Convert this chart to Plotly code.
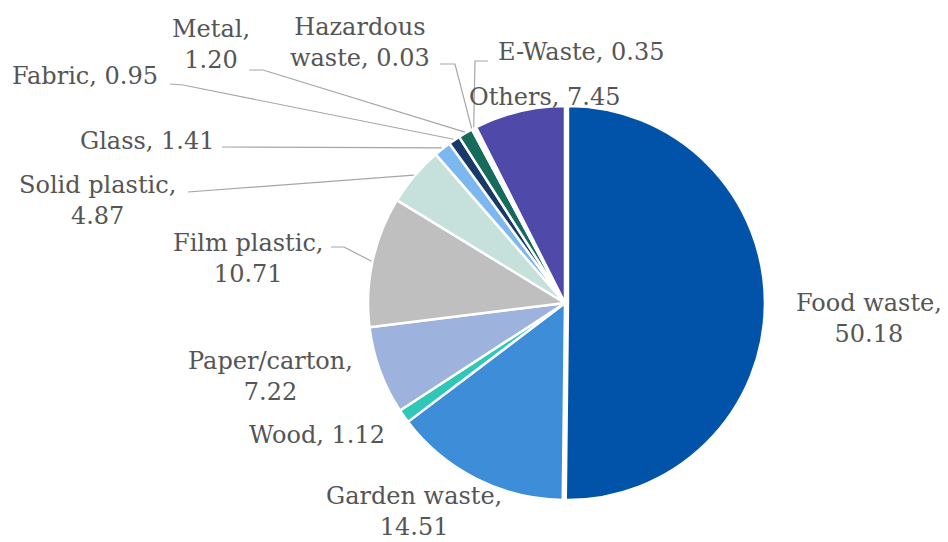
import math
import plotly.graph_objects as go

# ---- data ----
labels = ["Food waste", "Garden waste", "Wood", "Paper/carton", "Film plastic",
          "Solid plastic", "Glass", "Fabric", "Metal", "Hazardous waste",
          "E-Waste", "Others"]
values = [50.18, 14.51, 1.12, 7.22, 10.71, 4.87, 1.41, 0.95, 1.20, 0.03, 0.35, 7.45]
colors = ["#0153AA", "#3E8DD8", "#2EC7B8", "#9DB2DC", "#BFBFBF", "#C6E0DB",
          "#7DB7F0", "#173A6A", "#176B5C", "#FFFFFF", "#FFFFFF", "#4F4AA9"]

# ---- layout helpers ----
W, H = 948, 542
CX, CY, R = 565, 303, 197
PULL = 0.015
FONT = "DejaVu Serif"
TXT = "#555555"
LINE = "#A6A6A6"


def px(x, y):
    return x / W, 1 - y / H


def label_text(name, v):
    s = f"{name}, {v:.2f}"
    wrap_after_first_word = {"Hazardous waste"}
    single = {"Wood", "Glass", "Fabric", "E-Waste", "Others"}
    if name in wrap_after_first_word:
        a, b = s.split(" ", 1)
        return a + "<br>" + b
    if name in single:
        return s
    return s.replace(", ", ",<br>", 1)


# label centre positions (pixels) - layout only
label_pos = {
    "Food waste": (869, 318), "Garden waste": (414, 511), "Wood": (317, 435),
    "Paper/carton": (270, 376), "Film plastic": (248, 258),
    "Solid plastic": (97, 201), "Glass": (147, 141), "Fabric": (85, 76),
    "Metal": (211, 44), "Hazardous waste": (360, 42), "E-Waste": (581, 52),
    "Others": (544, 97),
}
# leader line start points (pixels) and optional elbow
leader = {
    "Film plastic": [(331, 247), (344, 247)],
    "Solid plastic": [(188, 192)],
    "Glass": [(222, 147)],
    "Fabric": [(170, 84), (183, 85)],
    "Metal": [(249, 70), (263, 70)],
    "Hazardous waste": [(440, 64), (455, 64)],
    "E-Waste": [(488, 61), (475, 61)],
}

total = sum(values)
mid_angle = {}
cum = 0.0
for n, v in zip(labels, values):
    mid_angle[n] = 360.0 * (cum + v / 2) / total
    cum += v

fig = go.Figure()
half = R * (1 + PULL)
fig.add_trace(go.Pie(
    labels=labels, values=values, sort=False, direction="clockwise", rotation=0,
    marker=dict(colors=colors, line=dict(color="white", width=2.5)),
    pull=[PULL] + [0] * (len(values) - 1),
    textinfo="none", hoverinfo="label+value", showlegend=False,
    domain=dict(x=[(CX - half) / W, (CX + half) / W],
                y=[(H - CY - half) / H, (H - CY + half) / H]),
))

shapes = []
for n, pts in leader.items():
    a = math.radians(mid_angle[n])
    ex, ey = CX + (R + 1) * math.sin(a), CY - (R + 1) * math.cos(a)
    allp = pts + [(ex, ey)]
    path = ""
    for i, (x, y) in enumerate(allp):
        X, Y = px(x, y)
        path += ("M" if i == 0 else " L") + f" {X:.5f},{Y:.5f}"
    shapes.append(dict(type="path", path=path, xref="paper", yref="paper",
                       line=dict(color=LINE, width=1.2)))

annotations = []
for n, v in zip(labels, values):
    x, y = label_pos[n]
    X, Y = px(x, y)
    annotations.append(dict(text=label_text(n, v), x=X, y=Y, xref="paper",
                            yref="paper", xanchor="center", yanchor="middle",
                            showarrow=False, align="center",
                            font=dict(family=FONT, size=24, color=TXT)))

fig.update_layout(
    width=W, height=H, margin=dict(l=0, r=0, t=0, b=0),
    paper_bgcolor="white", plot_bgcolor="white",
    shapes=shapes, annotations=annotations,
)
fig.write_html("out.html")
